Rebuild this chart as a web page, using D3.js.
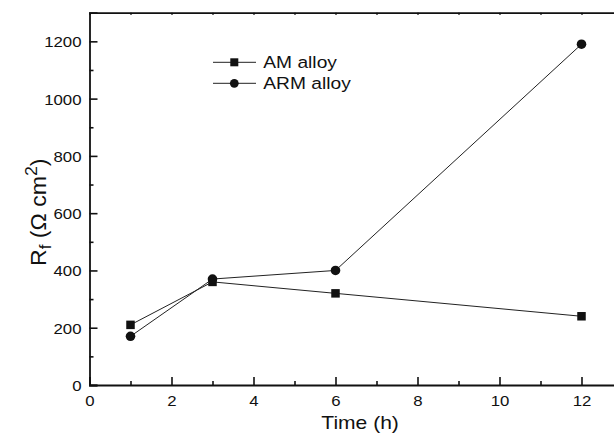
<!DOCTYPE html>
<html><head><meta charset="utf-8">
<script src="https://cdn.jsdelivr.net/npm/d3@7"></script>
<style>
html,body{margin:0;padding:0;background:#fff;}
svg{display:block;}
text{font-family:"Liberation Sans",Arial,Helvetica,sans-serif;fill:#111;}
</style></head>
<body><svg id="c" width="614" height="436"></svg>
<script>
const times = [1, 3, 6, 12];
const amAlloy = [210, 360, 320, 240];
const armAlloy = [170, 370, 400, 1190];
const seriesNames = ["AM alloy", "ARM alloy"];
const xMajorTicks = [0, 2, 4, 6, 8, 10, 12];
const xMinorTicks = [1, 3, 5, 7, 9, 11];
const yMajorTicks = [0, 200, 400, 600, 800, 1000, 1200];
const yMinorTicks = [100, 300, 500, 700, 900, 1100];

const svg = d3.select("#c");
const L = 89.5, T = 12.7, B = 385, R = 622.5;
const x = d3.scaleLinear().domain([0, 13]).range([L, R]);
const y = d3.scaleLinear().domain([0, 1300]).range([B, T]);
const ink = "#111";
const SX = 1.12;

const gxb = svg.append("g").attr("transform", `translate(0,${B})`)
  .call(d3.axisBottom(x).tickValues(xMajorTicks).tickSize(-8).tickPadding(0).tickFormat(d3.format("d")));
gxb.selectAll(".tick text").attr("y", 0).attr("dy", null)
  .attr("transform", `translate(0,21) scale(${SX},1)`).style("font-size", "15px");
const gxbm = svg.append("g").attr("transform", `translate(0,${B})`)
  .call(d3.axisBottom(x).tickValues(xMinorTicks).tickSize(-4).tickFormat(""));
const gxt = svg.append("g").attr("transform", `translate(0,${T})`)
  .call(d3.axisTop(x).tickValues(d3.range(1, 13)).tickSize(-2).tickFormat(""));
const gyl = svg.append("g").attr("transform", `translate(${L},0)`)
  .call(d3.axisLeft(y).tickValues(yMajorTicks).tickSize(-8).tickPadding(0).tickFormat(d3.format("d")));
gyl.selectAll(".tick text").attr("x", 0).attr("dy", null).attr("y", 0)
  .attr("transform", `translate(-8,5.5) scale(${SX},1)`).style("font-size", "15px");
const gylm = svg.append("g").attr("transform", `translate(${L},0)`)
  .call(d3.axisLeft(y).tickValues(yMinorTicks).tickSize(-4).tickFormat(""));

[gxb, gxbm, gxt, gyl, gylm].forEach(g => {
  g.select(".domain").attr("stroke", ink).attr("stroke-width", 1.8);
  g.selectAll(".tick line").attr("stroke", ink).attr("stroke-width", 1.6);
});
gxbm.select(".domain").remove(); gylm.select(".domain").remove();

svg.append("text").attr("text-anchor", "middle")
  .attr("transform", `translate(${x(6.6)},429) scale(1.17,1)`)
  .style("font-size", "18px").text("Time (h)");

const yl = svg.append("text").attr("text-anchor", "start")
  .attr("transform", `translate(46,266) rotate(-90) scale(1.05,1)`)
  .style("font-size", "22px");
yl.append("tspan").text("R");
yl.append("tspan").attr("dy", 5).style("font-size", "16px").text("f");
yl.append("tspan").attr("dy", -5).text(" (\u03A9 cm");
yl.append("tspan").attr("dy", -9).style("font-size", "17px").text("2");
yl.append("tspan").attr("dy", 9).text(")");

const amData = times.map((t, i) => ({t, v: amAlloy[i]}));
const armData = times.map((t, i) => ({t, v: armAlloy[i]}));
const line = d3.line().x(d => x(d.t)).y(d => y(d.v));
[amData, armData].forEach(data => {
  svg.append("path").datum(data).attr("d", line)
    .attr("fill", "none").attr("stroke", "#222").attr("stroke-width", 1);
});
const sq = 8.5, cr = 4.8;
svg.selectAll(".sq").data(amData).enter().append("rect")
  .attr("x", d => x(d.t) - sq / 2).attr("y", d => y(d.v) - sq / 2)
  .attr("width", sq).attr("height", sq).attr("fill", ink);
svg.selectAll(".ci").data(armData).enter().append("circle")
  .attr("cx", d => x(d.t)).attr("cy", d => y(d.v)).attr("r", cr).attr("fill", ink);

const legY = [62.3, 83.3];
seriesNames.forEach((name, i) => {
  const g = svg.append("g").attr("transform", `translate(0,${legY[i]})`);
  g.append("line").attr("x1", 213).attr("x2", 256).attr("y1", 0).attr("y2", 0)
    .attr("stroke", "#222").attr("stroke-width", 1);
  if (i === 0) g.append("rect").attr("x", 234.3 - 4).attr("y", -4).attr("width", 8).attr("height", 8).attr("fill", ink);
  else g.append("circle").attr("cx", 234.3).attr("cy", 0).attr("r", 4.4).attr("fill", ink);
  g.append("text").attr("transform", `translate(263.3,6) scale(1.13,1)`)
    .style("font-size", "17px").text(name);
});
</script></body></html>
